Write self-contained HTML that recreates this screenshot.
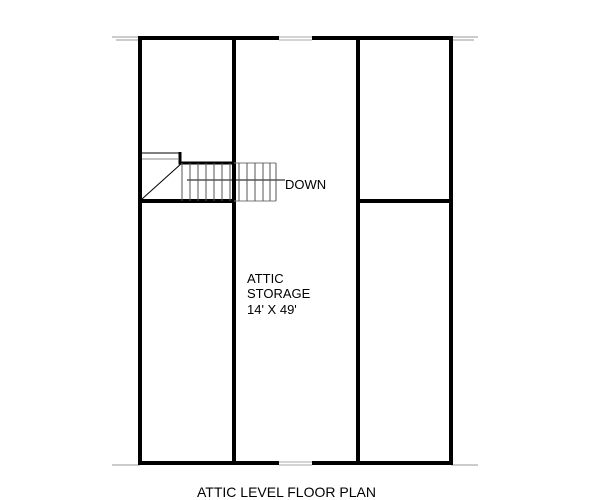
<!DOCTYPE html>
<html><head><style>body{margin:0;background:#fff}</style></head><body>
<svg width="600" height="500" xmlns="http://www.w3.org/2000/svg" style="display:block">
<g stroke="#000" fill="none">
<line x1="112" y1="37" x2="140" y2="37" stroke="#999" stroke-width="1"/>
<line x1="116" y1="40" x2="140" y2="40" stroke="#999" stroke-width="1"/>
<line x1="451" y1="37" x2="478" y2="37" stroke="#999" stroke-width="1"/>
<line x1="451" y1="40" x2="474" y2="40" stroke="#999" stroke-width="1"/>
<line x1="112" y1="465" x2="140" y2="465" stroke="#999" stroke-width="1"/>
<line x1="451" y1="465" x2="478" y2="465" stroke="#999" stroke-width="1"/>
<path d="M279 38 H140 V463 H279 M312 463 H451 V38 H312" stroke-width="4"/>
<line x1="279" y1="37" x2="312" y2="37" stroke="#aaa" stroke-width="1"/>
<line x1="279" y1="40" x2="312" y2="40" stroke="#aaa" stroke-width="1"/>
<line x1="279" y1="462" x2="312" y2="462" stroke="#aaa" stroke-width="1"/>
<line x1="279" y1="465" x2="312" y2="465" stroke="#aaa" stroke-width="1"/>
<line x1="234" y1="38" x2="234" y2="463" stroke-width="4"/>
<line x1="358" y1="38" x2="358" y2="463" stroke-width="4"/>
<line x1="140" y1="201" x2="234" y2="201" stroke-width="4"/>
<line x1="358" y1="201" x2="451" y2="201" stroke-width="4"/>
<path d="M180 152 V163 H234" stroke-width="3"/>
<line x1="142" y1="153" x2="180" y2="153" stroke-width="1"/>
<line x1="142" y1="159" x2="178" y2="159" stroke-width="1" stroke="#888"/>
<line x1="142" y1="199" x2="182" y2="163" stroke-width="1"/>
<line x1="234" y1="163" x2="276" y2="163" stroke-width="1" stroke="#777"/>
<line x1="234" y1="201" x2="276" y2="201" stroke-width="1" stroke="#777"/>
<line x1="187" y1="180" x2="285" y2="180" stroke-width="1"/>
<g stroke-width="1" stroke="#555">
<line x1="182" y1="163" x2="182" y2="201"/><line x1="190" y1="163" x2="190" y2="201"/>
<line x1="198" y1="163" x2="198" y2="201"/><line x1="206" y1="163" x2="206" y2="201"/>
<line x1="214" y1="163" x2="214" y2="201"/><line x1="222" y1="163" x2="222" y2="201"/>
<line x1="230" y1="163" x2="230" y2="201"/><line x1="239" y1="163" x2="239" y2="201"/>
<line x1="247" y1="163" x2="247" y2="201"/><line x1="255" y1="163" x2="255" y2="201"/>
<line x1="263" y1="163" x2="263" y2="201"/><line x1="270" y1="163" x2="270" y2="201"/>
<line x1="276" y1="163" x2="276" y2="201"/>
</g>
</g>
<g font-family="Liberation Sans, sans-serif" font-size="13" fill="#000">
<text x="285" y="189">DOWN</text>
<text x="247" y="283">ATTIC</text>
<text x="247" y="298">STORAGE</text>
<text x="247" y="314">14' X 49'</text>
<text x="197" y="497" font-size="14">ATTIC LEVEL FLOOR PLAN</text>
</g>
</svg>
</body></html>
